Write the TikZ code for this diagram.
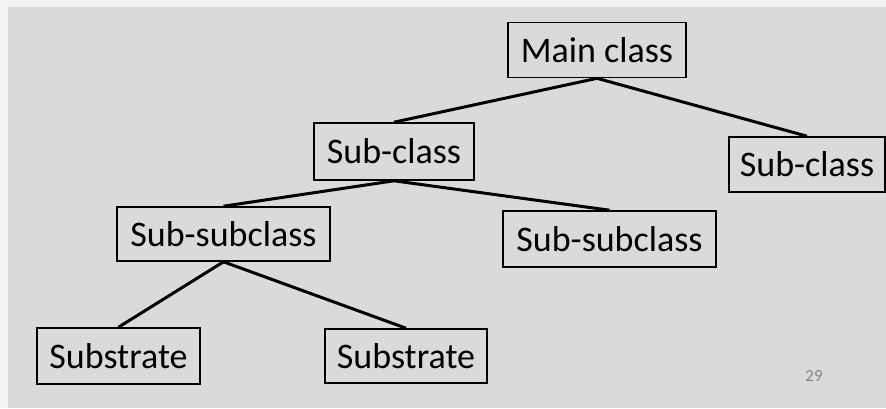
\documentclass[tikz,border=0pt]{standalone}
\usepackage{fontspec}
\setmainfont{Carlito}
\definecolor{outerbg}{HTML}{F2F2F2}
\definecolor{innerbg}{HTML}{DADADA}
\definecolor{pagenum}{HTML}{848484}
\begin{document}
\begin{tikzpicture}[x=1pt,y=-1pt,
  box/.style={draw=black,line width=1.6pt,fill=innerbg,inner sep=0pt,font=\fontsize{36}{40}\selectfont},
  link/.style={line width=3pt,draw=black}]
\fill[outerbg] (0,0) rectangle (886,408);
\fill[innerbg] (8,7) rectangle (886,408);
\useasboundingbox (0,0) rectangle (886,408);
\node[box,minimum width=178pt,minimum height=55pt] (main) at (597,50) {Main class};
\node[box,minimum width=160pt,minimum height=57pt] (subA) at (394,151.5) {Sub-class};
\node[box,minimum width=156pt,minimum height=55pt] (subB) at (807,164.5) {Sub-class};
\node[box,minimum width=213pt,minimum height=54pt] (ssA) at (223.5,234) {Sub-subclass};
\node[box,minimum width=213pt,minimum height=56pt] (ssB) at (609.5,239) {Sub-subclass};
\node[box,minimum width=163pt,minimum height=56pt] (stA) at (118.5,356) {Substrate};
\node[box,minimum width=162pt,minimum height=54pt] (stB) at (406,356) {Substrate};
\node[text=pagenum,font=\fontsize{17}{20}\selectfont,inner sep=0pt] (pn) at (814,376) {29};
\draw[link] (main.south) -- (subA.north);
\draw[link] (main.south) -- (subB.north);
\draw[link] (subA.south) -- (ssA.north);
\draw[link] (subA.south) -- (ssB.north);
\draw[link] (ssA.south) -- (stA.north);
\draw[link] (ssA.south) -- (stB.north);
\end{tikzpicture}
\end{document}
